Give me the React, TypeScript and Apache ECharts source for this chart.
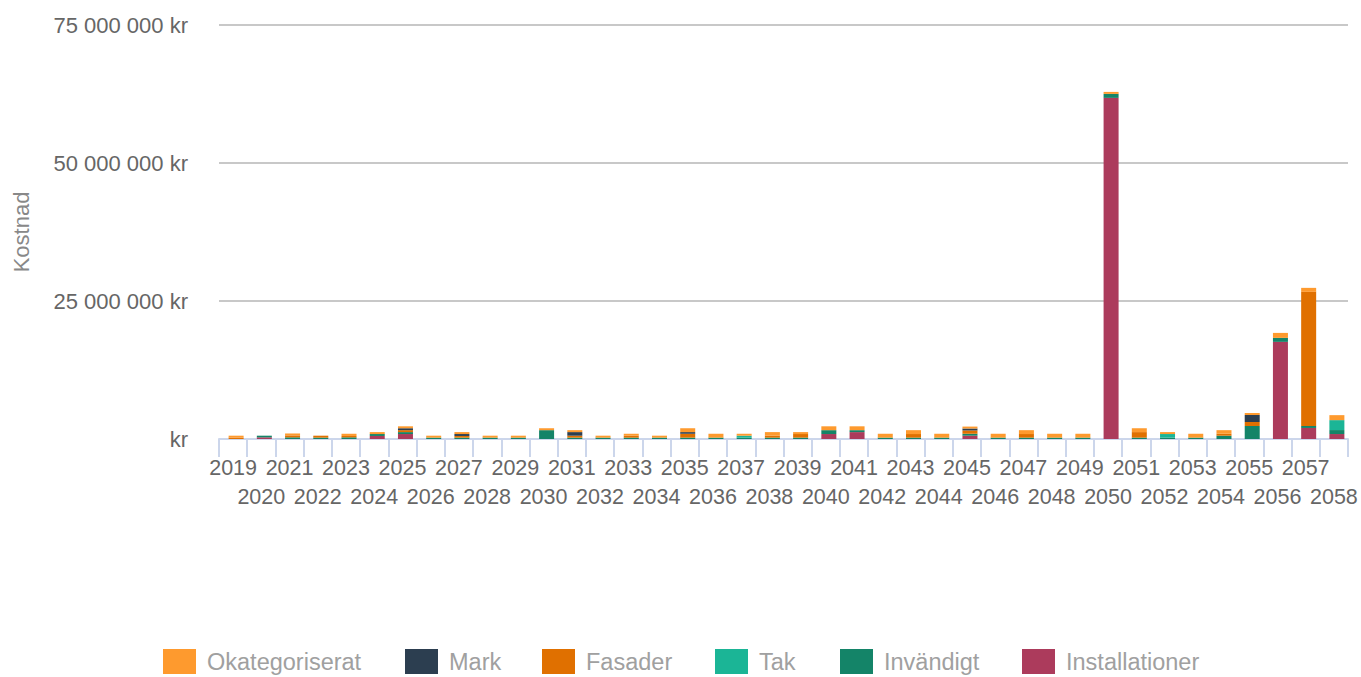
import React, { useEffect, useRef } from "react";
import * as echarts from "echarts";

const years = [
  "2019","2020","2021","2022","2023","2024","2025","2026","2027","2028",
  "2029","2030","2031","2032","2033","2034","2035","2036","2037","2038",
  "2039","2040","2041","2042","2043","2044","2045","2046","2047","2048",
  "2049","2050","2051","2052","2053","2054","2055","2056","2057","2058",
];

// values in kr
const okategoriserat = [
  350000, 0, 350000, 0, 400000, 350000, 350000, 350000, 350000, 350000,
  350000, 350000, 350000, 350000, 350000, 350000, 700000, 700000, 350000, 650000,
  350000, 700000, 700000, 700000, 700000, 700000, 350000, 700000, 700000, 700000,
  700000, 360000, 700000, 350000, 700000, 650000, 360000, 900000, 720000, 900000,
];
const mark = [
  0, 0, 0, 0, 0, 0, 350000, 0, 350000, 0,
  0, 0, 650000, 0, 0, 0, 300000, 0, 0, 0,
  0, 0, 0, 0, 0, 0, 350000, 0, 0, 0,
  0, 0, 0, 0, 0, 0, 1270000, 0, 0, 0,
];
const fasader = [
  250000, 0, 350000, 350000, 250000, 0, 350000, 0, 300000, 0,
  0, 0, 350000, 0, 350000, 0, 700000, 0, 0, 350000,
  650000, 0, 0, 0, 650000, 0, 600000, 0, 650000, 0,
  0, 0, 1000000, 0, 0, 350000, 720000, 0, 24300000, 0,
];
const tak = [
  0, 0, 0, 0, 0, 0, 0, 0, 0, 0,
  0, 0, 0, 0, 0, 0, 0, 0, 350000, 0,
  0, 0, 0, 0, 0, 0, 0, 0, 0, 0,
  0, 0, 0, 650000, 0, 0, 0, 0, 0, 1800000,
];
const invandigt = [
  0, 300000, 300000, 250000, 300000, 350000, 350000, 250000, 250000, 250000,
  250000, 1600000, 250000, 250000, 250000, 250000, 250000, 250000, 250000, 250000,
  250000, 700000, 350000, 250000, 250000, 250000, 350000, 250000, 250000, 250000,
  250000, 720000, 250000, 250000, 250000, 600000, 2360000, 720000, 360000, 720000,
];
const installationer = [
  0, 300000, 0, 0, 0, 550000, 900000, 0, 0, 0,
  0, 0, 0, 0, 0, 0, 0, 0, 0, 0,
  0, 900000, 1250000, 0, 0, 0, 600000, 0, 0, 0,
  0, 61800000, 0, 0, 0, 0, 0, 17600000, 2000000, 900000,
];

const yTicks = [0, 25000000, 50000000, 75000000];

const FONT = "'Liberation Sans', Arial, Helvetica, sans-serif";

const seriesDefs = [
  { name: "Installationer", data: installationer, color: "#ac3b5c" },
  { name: "Invändigt", data: invandigt, color: "#148468" },
  { name: "Tak", data: tak, color: "#1bb596" },
  { name: "Fasader", data: fasader, color: "#e07000" },
  { name: "Mark", data: mark, color: "#2c3e50" },
  { name: "Okategoriserat", data: okategoriserat, color: "#fe9a2e" },
];
const legendOrder = ["Okategoriserat", "Mark", "Fasader", "Tak", "Invändigt", "Installationer"];
const legendLeft = [163, 405, 542, 715, 840, 1022];

function fmtKr(v: number): string {
  if (v === 0) return "kr";
  return String(v).replace(/\B(?=(\d{3})+(?!\d))/g, " ") + " kr";
}

export default function App() {
  const ref = useRef<HTMLDivElement>(null);
  useEffect(() => {
    if (!ref.current) return;
    const chart = echarts.init(ref.current, undefined, { renderer: "svg" });
    const yMin = yTicks[0];
    const yMax = yTicks[yTicks.length - 1];
    chart.setOption({
      animation: false,
      textStyle: { fontFamily: FONT },
      grid: [
        { left: 219, right: 13, top: 25, bottom: 238, containLabel: false },
        { left: 222, right: 10, top: 25, bottom: 238, containLabel: false },
      ],
      legend: legendOrder.map((name, i) => ({
        data: [name],
        left: legendLeft[i],
        top: 649,
        padding: 0,
        icon: "rect",
        itemWidth: 33,
        itemHeight: 25,
        textStyle: { fontSize: 23.5, color: "#a0a0a0", fontFamily: FONT, padding: [0, 0, 0, 6] },
      })),
      xAxis: [
        {
          type: "category",
          gridIndex: 0,
          data: years,
          boundaryGap: true,
          axisLine: { lineStyle: { color: "#ccd6eb", width: 2 } },
          axisTick: { show: true, interval: 0, length: 18, lineStyle: { color: "#ccd6eb", width: 2 } },
          axisLabel: {
            interval: 0,
            hideOverlap: false,
            fontSize: 21.5,
            color: "#666666",
            fontFamily: FONT,
            lineHeight: 29,
            margin: 14,
            formatter: (v: string, i: number) => (i % 2 === 1 ? "\n" + v : v),
          },
        },
        {
          type: "category",
          gridIndex: 1,
          data: years,
          boundaryGap: true,
          show: false,
        },
      ],
      yAxis: [
        {
          type: "value",
          gridIndex: 0,
          min: yMin,
          max: yMax,
          interval: yTicks[1] - yTicks[0],
          name: "Kostnad",
          nameLocation: "middle",
          nameRotate: 90,
          nameGap: 187,
          nameTextStyle: { fontSize: 22, color: "#888888", fontFamily: FONT },
          axisLine: { show: false },
          axisTick: { show: false },
          splitLine: { lineStyle: { color: "#c8c8c8", width: 2 } },
          axisLabel: {
            fontSize: 22,
            color: "#666666",
            fontFamily: FONT,
            margin: 31,
            formatter: (v: number) => fmtKr(v),
          },
        },
        {
          type: "value",
          gridIndex: 1,
          min: yMin,
          max: yMax,
          interval: yTicks[1] - yTicks[0],
          show: false,
          splitLine: { show: false },
        },
      ],
      series: seriesDefs.map((s) => ({
        name: s.name,
        type: "bar",
        stack: "total",
        xAxisIndex: 1,
        yAxisIndex: 1,
        data: s.data,
        barWidth: 15,
        itemStyle: { color: s.color },
      })),
    });
    return () => chart.dispose();
  }, []);
  return (
    <div
      ref={ref}
      style={{ position: "absolute", left: 0, top: 0, width: 1361, height: 677 }}
    />
  );
}
